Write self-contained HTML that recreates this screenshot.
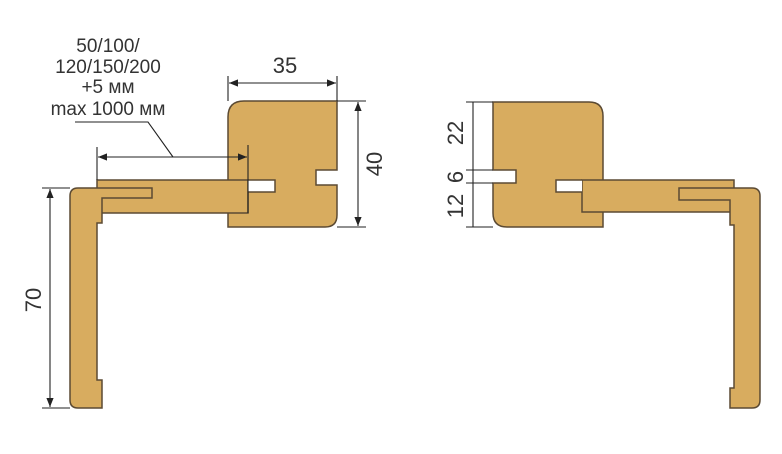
<!DOCTYPE html>
<html><head><meta charset="utf-8"><style>html,body{margin:0;padding:0;background:#fff}svg{display:block}</style></head>
<body>
<svg width="782" height="454" viewBox="0 0 782 454" xmlns="http://www.w3.org/2000/svg">
<defs>
<marker id="a" viewBox="0 0 10 10" refX="10" refY="5" markerWidth="9" markerHeight="9" orient="auto-start-reverse" markerUnits="userSpaceOnUse"><path d="M0,1 L10,5 L0,9 z" fill="#222"/></marker>
</defs>
<g fill="#D8AC5F" stroke="#5b4a33" stroke-width="1.5">
<!-- left block -->
<path d="M244,101 H337 V170 H316 V185 H337 V215 Q337,227 325,227 H228 V117 Q228,101 244,101 Z"/>
<!-- left plank -->
<rect x="97" y="180" width="151" height="33"/>
<!-- left L -->
<path d="M78,188 H152 V198 H102 V223 H97 V380 H102 V408 H78 Q70,408 70,400 V196 Q70,188 78,188 Z"/>
<!-- right block -->
<path d="M493,102 H589 Q603,102 603,116 V227 H507 Q493,227 493,213 V183 H516 V170 H493 Z"/>
<!-- right plank -->
<rect x="582" y="180" width="152" height="32"/>
<!-- right L -->
<path d="M679,188 H752 Q760,188 760,196 V400 Q760,408 752,408 H730 V388 H734 V225 H730 V200 H679 Z"/>
</g>
<g fill="#fff" stroke="#5b4a33" stroke-width="1.5">
<path d="M248,180 H275 V192 H248"/>
<path d="M582,180 H556 V192 H582"/>
</g>
<g stroke="#222" stroke-width="1.1" fill="none">
<line x1="228" y1="76" x2="228" y2="101"/><line x1="337" y1="76" x2="337" y2="101"/>
<line x1="229" y1="83" x2="336" y2="83" marker-start="url(#a)" marker-end="url(#a)"/>
<line x1="337" y1="101" x2="366" y2="101"/><line x1="337" y1="227" x2="366" y2="227"/>
<line x1="358" y1="102" x2="358" y2="226" marker-start="url(#a)" marker-end="url(#a)"/>
<line x1="97" y1="147" x2="97" y2="180"/><line x1="248" y1="145" x2="248" y2="213"/>
<line x1="98" y1="157" x2="247" y2="157" marker-start="url(#a)" marker-end="url(#a)"/>
<polyline points="75,122 148,122 173,157"/>
<line x1="42" y1="188" x2="70" y2="188"/><line x1="42" y1="408" x2="70" y2="408"/>
<line x1="50" y1="189" x2="50" y2="407" marker-start="url(#a)" marker-end="url(#a)"/>
<line x1="473" y1="102" x2="473" y2="227"/>
<line x1="466" y1="102" x2="493" y2="102"/><line x1="466" y1="227" x2="493" y2="227"/>
<line x1="466" y1="170" x2="493" y2="170"/><line x1="466" y1="183" x2="493" y2="183"/>
</g>
<g font-family="Liberation Sans, sans-serif" fill="#333" text-anchor="middle">
<g font-size="19">
<text x="108" y="52">50/100/</text>
<text x="108" y="73">120/150/200</text>
<text x="108" y="93">+5 мм</text>
<text x="108" y="115">max 1000 мм</text>
</g>
<g font-size="22">
<text x="285" y="73">35</text>
<text transform="translate(382,164) rotate(-90)">40</text>
<text transform="translate(41,300) rotate(-90)">70</text>
<text transform="translate(463,133) rotate(-90)">22</text>
<text transform="translate(463,177) rotate(-90)">6</text>
<text transform="translate(463,206) rotate(-90)">12</text>
</g>
</g>
</svg>
</body></html>
